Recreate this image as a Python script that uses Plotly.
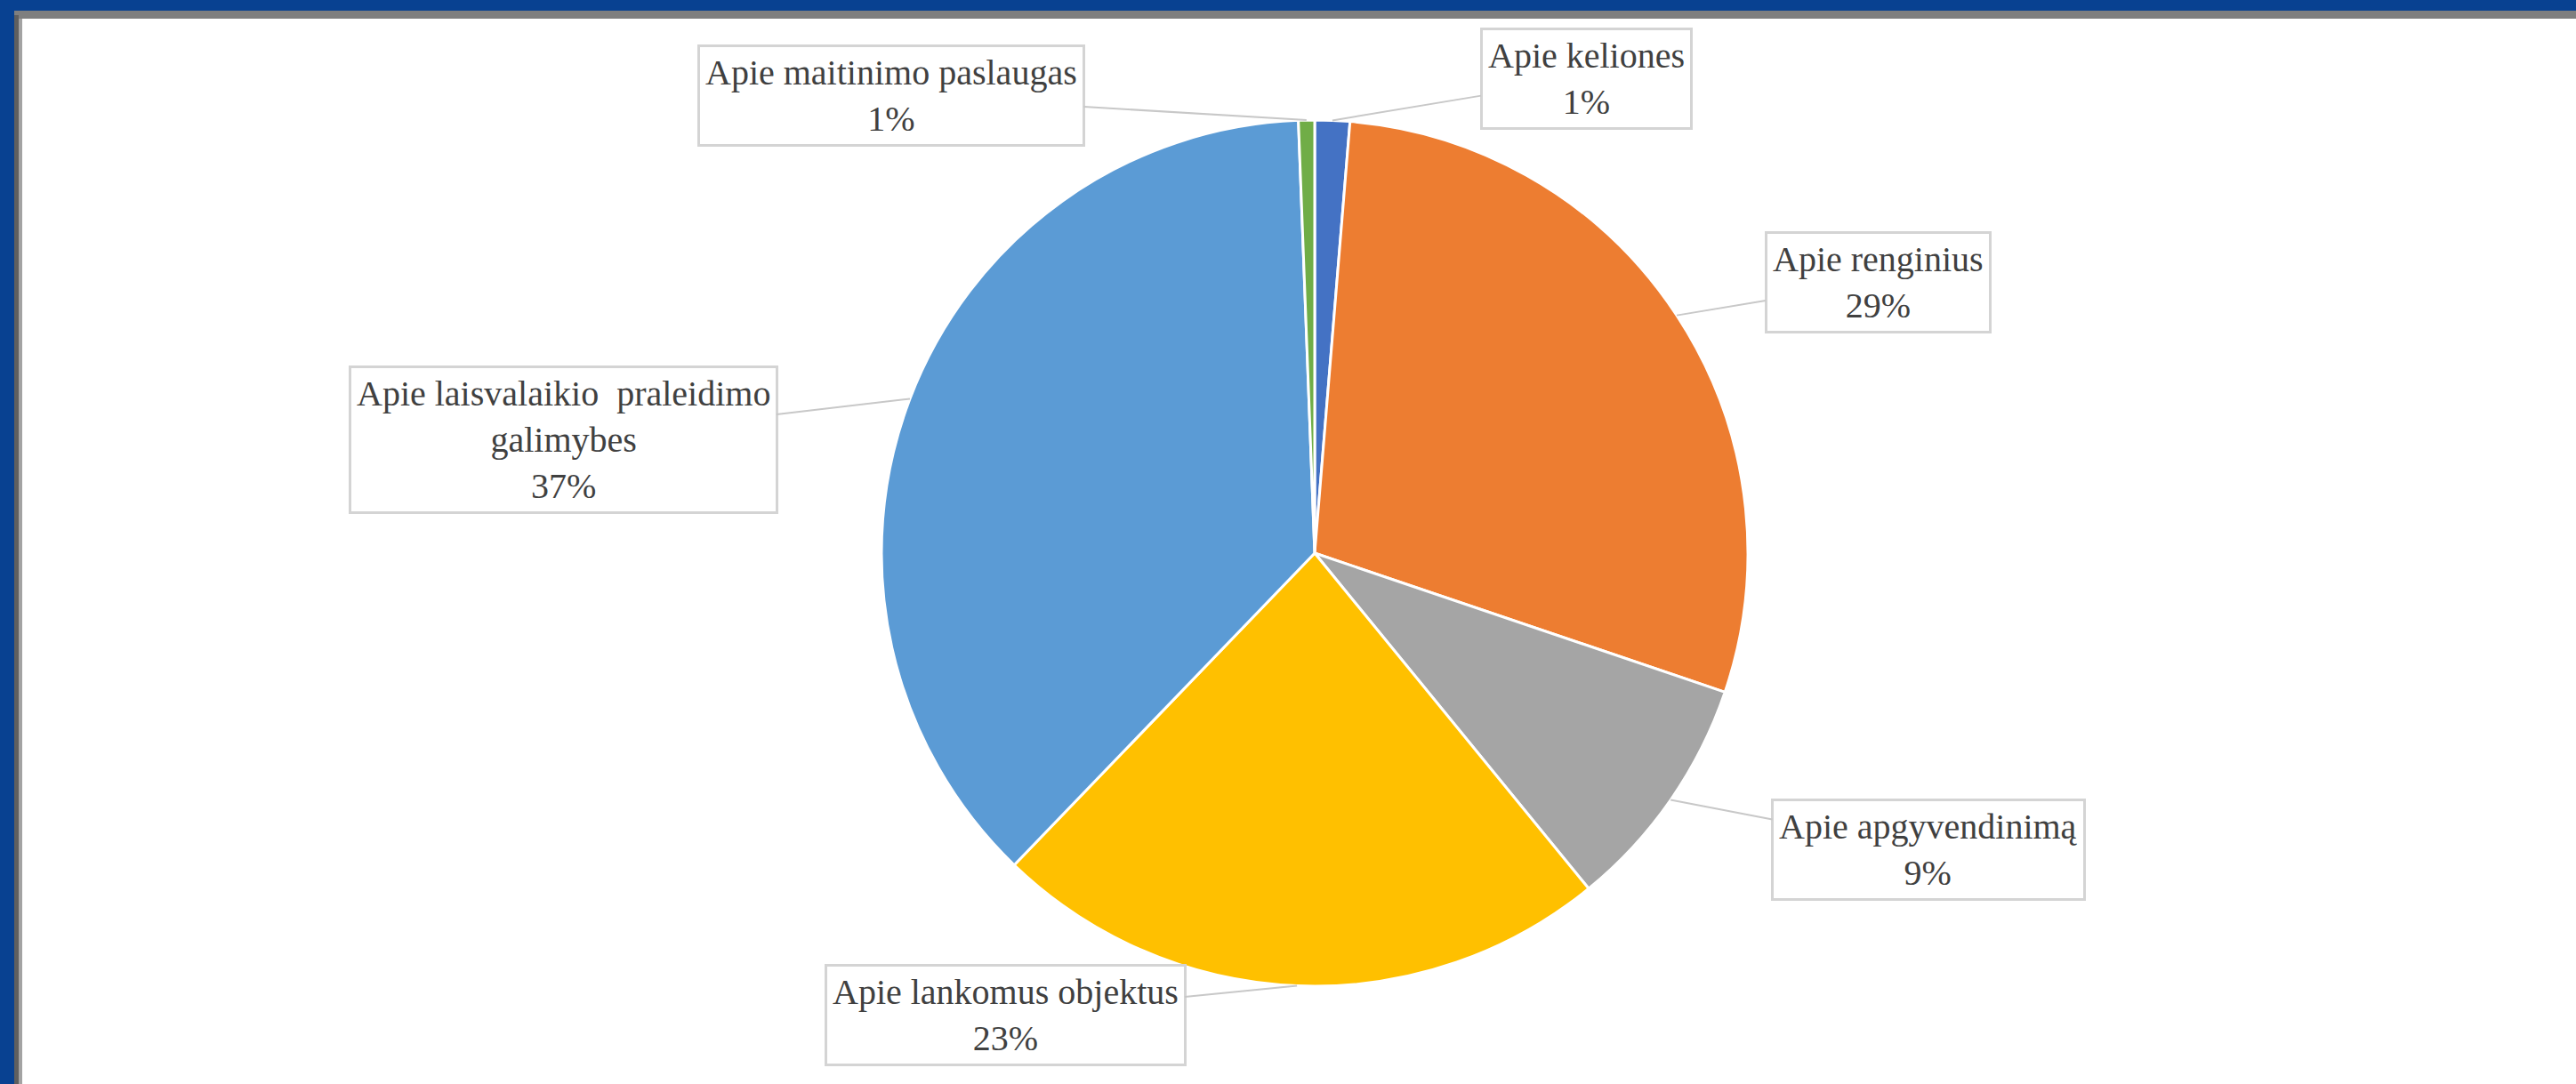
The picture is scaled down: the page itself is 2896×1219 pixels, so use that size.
import math
import plotly.graph_objects as go

# ---- data ----
categories = [
    "Apie keliones",
    "Apie renginius",
    "Apie apgyvendinimą",
    "Apie lankomus objektus",
    "Apie laisvalaikio  praleidimo<br>galimybes",
    "Apie maitinimo paslaugas",
]
values = [1.3, 28.9, 8.9, 23.1, 37.2, 0.6]
colors = ["#4472C4", "#ED7D31", "#A5A5A5", "#FFC000", "#5B9BD5", "#70AD47"]

# ---- layout constants (pixels) ----
W, H = 2896, 1219
CX, CY, R = 1478, 622, 487
# label box centres (pixels)
label_pos = [(1783, 88), (2111, 317), (2168, 955), (1130, 1141), (633, 494), (1002, 107)]

total = sum(values)
fig = go.Figure()

fig.add_trace(go.Pie(
    labels=[c.replace("<br>", " ") for c in categories],
    values=values,
    sort=False,
    direction="clockwise",
    rotation=0,
    marker=dict(colors=colors, line=dict(color="white", width=3)),
    textinfo="none",
    hoverinfo="label+percent",
    showlegend=False,
    domain=dict(x=[(CX - R) / W, (CX + R) / W],
                y=[(H - CY - R) / H, (H - CY + R) / H]),
))
# invisible trace to create pixel-based axes for annotations/shapes
fig.add_trace(go.Scatter(x=[], y=[], showlegend=False, hoverinfo="skip"))

annotations = []
cum = 0.0
for cat, v, (bx, by) in zip(categories, values, label_pos):
    mid = (cum + v / 2) / total
    cum += v
    theta = 2 * math.pi * mid
    tx = CX + R * math.sin(theta)
    ty = CY - R * math.cos(theta)
    pct = round(v / total * 100)
    annotations.append(dict(
        x=tx, y=ty, xref="x", yref="y",
        ax=bx, ay=by, axref="x", ayref="y",
        text=f"{cat}<br>{pct}%",
        showarrow=True, arrowhead=0, arrowwidth=2, arrowcolor="#C8C8C8",
        standoff=0,
        font=dict(family="Liberation Serif, Times New Roman, serif", size=40, color="#404040"),
        align="center",
        bgcolor="white", bordercolor="#D4D4D4", borderwidth=3, borderpad=6,
    ))

shapes = [
    dict(type="rect", xref="x", yref="y", x0=0, x1=W, y0=0, y1=12, fillcolor="#084191", line_width=0, layer="above"),
    dict(type="rect", xref="x", yref="y", x0=0, x1=16, y0=0, y1=H, fillcolor="#084191", line_width=0, layer="above"),
    dict(type="rect", xref="x", yref="y", x0=16, x1=W, y0=12, y1=21, fillcolor="#7F7F7F", line_width=0, layer="above"),
    dict(type="rect", xref="x", yref="y", x0=16, x1=21, y0=17, y1=H, fillcolor="#5F5F5F", line_width=0, layer="above"),
    dict(type="rect", xref="x", yref="y", x0=21, x1=25, y0=21, y1=H, fillcolor="#A3A3A3", line_width=0, layer="above"),
]

fig.update_layout(
    width=W, height=H,
    margin=dict(l=0, r=0, t=0, b=0),
    paper_bgcolor="white", plot_bgcolor="rgba(0,0,0,0)",
    xaxis=dict(range=[0, W], visible=False, fixedrange=True),
    yaxis=dict(range=[H, 0], visible=False, fixedrange=True),
    annotations=annotations,
    shapes=shapes,
)

fig.write_html("out.html", config={"displayModeBar": False},
               post_script="document.body.style.margin='0';document.body.style.overflow='hidden';")
